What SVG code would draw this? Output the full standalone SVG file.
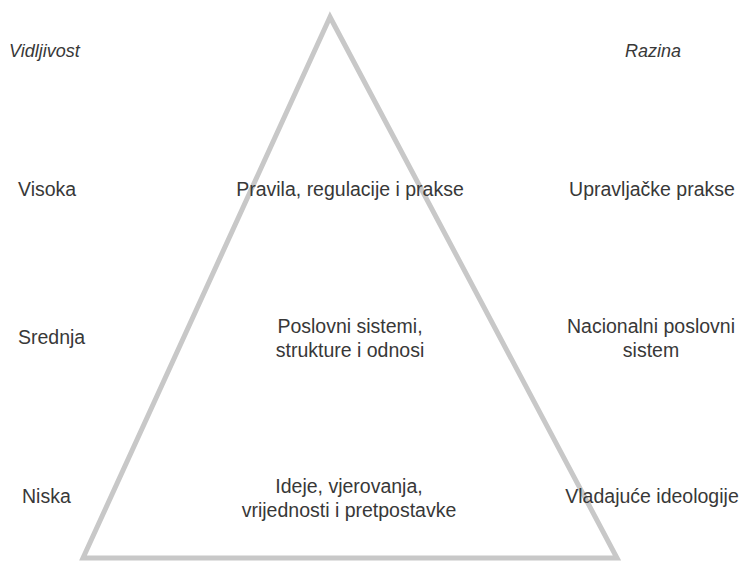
<svg xmlns="http://www.w3.org/2000/svg" width="744" height="563" viewBox="0 0 744 563">
<style>
text{font-family:"Liberation Sans","DejaVu Sans",sans-serif;font-size:19.5px;fill:#383838}
.it{font-style:italic;font-size:18px}
.c{text-anchor:middle}
.tri{fill:none;stroke:#c8c8c8;stroke-width:5;stroke-linejoin:miter}
</style>
<rect width="744" height="563" fill="#ffffff"/>
<g id="connectors">
<polygon class="tri" points="330,17 83,558 617,558"/>
</g>
<g id="header-visibility"><text class="it" x="9" y="57">Vidljivost</text></g>
<g id="header-level"><text class="it" x="625" y="57">Razina</text></g>
<g id="vis-high"><text x="18" y="196">Visoka</text></g>
<g id="vis-mid"><text x="18" y="344">Srednja</text></g>
<g id="vis-low"><text x="22" y="503">Niska</text></g>
<g id="tier-top"><text class="c" x="350" y="196">Pravila, regulacije i prakse</text></g>
<g id="tier-mid"><text class="c" x="350" y="333">Poslovni sistemi,</text><text class="c" x="350" y="357">strukture i odnosi</text></g>
<g id="tier-low"><text class="c" x="349" y="493">Ideje, vjerovanja,</text><text class="c" x="349" y="517">vrijednosti i pretpostavke</text></g>
<g id="level-top"><text class="c" x="652" y="196">Upravljačke prakse</text></g>
<g id="level-mid"><text class="c" x="651" y="333">Nacionalni poslovni</text><text class="c" x="651" y="357">sistem</text></g>
<g id="level-low"><text class="c" x="652" y="503">Vladajuće ideologije</text></g>
</svg>
